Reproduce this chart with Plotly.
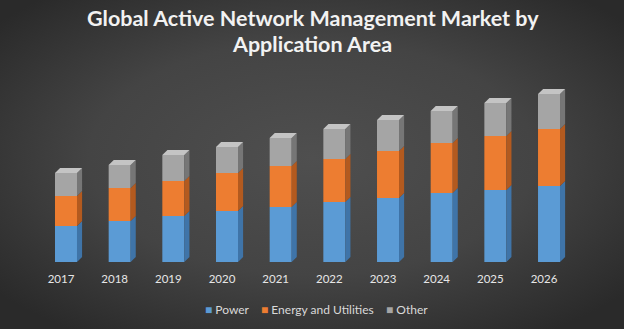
import base64
import plotly.graph_objects as go

# ---- data (arbitrary units) ----
years = ["2017", "2018", "2019", "2020", "2021", "2022", "2023", "2024", "2025", "2026"]
power = [36, 41, 46, 51, 55, 60, 64, 69, 72, 76]
energy = [30, 33, 35, 38, 41, 43, 47, 50, 54, 57]
other = [23, 23, 26, 26, 28, 30, 31, 32, 33, 35]

title_lines = ["Global Active Network Management Market by", "Application Area"]

series = [
    ("Power", power, "#5b9bd5", "#3f74a8", None),
    ("Energy and Utilities", energy, "#ed7d31", "#b35a1f", None),
    ("Other", other, "#a5a5a5", "#767676", "#c4c4c4"),
]

W, H = 624, 329
xpos = list(range(len(years)))
BAR_OFFSET = -0.112
BAR_WIDTH = 0.41
DX = 0.095   # depth in category units
DY = 5.0     # depth in value units

fig = go.Figure()

svg = f"""<svg xmlns='http://www.w3.org/2000/svg' width='{W}' height='{H}'>
<defs><radialGradient id='g' cx='50%' cy='48%' r='65%'>
<stop offset='0%' stop-color='#4f4f4f'/><stop offset='55%' stop-color='#444444'/>
<stop offset='100%' stop-color='#2a2a2a'/></radialGradient></defs>
<rect width='{W}' height='{H}' fill='url(#g)'/></svg>"""
src = "data:image/svg+xml;base64," + base64.b64encode(svg.encode()).decode()

bottoms = [0.0] * len(years)
side_polys = []
for name, vals, front, side, top in series:
    fig.add_trace(go.Bar(
        x=xpos, y=vals, base=bottoms[:], name=name,
        offset=BAR_OFFSET, width=BAR_WIDTH,
        marker=dict(color=front, line=dict(width=0)),
        hoverinfo="y+name", showlegend=False,
    ))
    xs, ys = [], []
    for i, v in enumerate(vals):
        y0 = bottoms[i]
        y1 = y0 + v
        xr = xpos[i] + BAR_OFFSET + BAR_WIDTH
        xs += [xr, xr + DX, xr + DX, xr, xr, None]
        ys += [y0, y0 + DY, y1 + DY, y1, y0, None]
    side_polys.append((xs, ys, side))
    if top is not None:
        txs, tys = [], []
        for i, v in enumerate(vals):
            y1 = bottoms[i] + v
            xl = xpos[i] + BAR_OFFSET
            xr = xl + BAR_WIDTH
            txs += [xl, xr, xr + DX, xl + DX, xl, None]
            tys += [y1, y1, y1 + DY, y1 + DY, y1, None]
        side_polys.append((txs, tys, top))
    bottoms = [b + v for b, v in zip(bottoms, vals)]

for xs, ys, col in side_polys:
    fig.add_trace(go.Scatter(
        x=xs, y=ys, mode="lines", fill="toself", fillcolor=col,
        line=dict(width=0, color=col), showlegend=False, hoverinfo="skip",
    ))

x0_px, step_px, base_px = 61.0, 53.67, 262.0
xr0 = (0 - x0_px) / step_px
xr1 = (W - x0_px) / step_px

legend_parts = []
for name, vals, front, side, top in series:
    legend_parts.append(f"<span style='color:{front}'>■</span> {name}")
legend_text = "    ".join(legend_parts)

title_font = dict(family="Lato", size=21.5, color="#f2f2f2", weight="bold")

fig.update_layout(
    width=W, height=H,
    margin=dict(l=0, r=0, t=0, b=0),
    paper_bgcolor="#3a3a3a",
    plot_bgcolor="rgba(0,0,0,0)",
    barmode="overlay",
    showlegend=False,
    images=[dict(source=src, xref="paper", yref="paper", x=0, y=1,
                 sizex=1, sizey=1, xanchor="left", yanchor="top",
                 sizing="stretch", layer="below")],
    font=dict(family="Lato", color="#d9d9d9", size=12),
    xaxis=dict(
        range=[xr0, xr1], tickvals=xpos, ticktext=years,
        showgrid=False, zeroline=False, showline=False, ticks="",
        anchor="free", position=(H - base_px) / H, ticklabelstandoff=8,
        tickfont=dict(size=11.5, color="#e6e6e6"), fixedrange=True,
    ),
    yaxis=dict(
        range=[-(H - base_px), base_px], visible=False,
        showgrid=False, zeroline=False, fixedrange=True,
    ),
    annotations=[
        dict(text=title_lines[0], xref="paper", yref="paper", x=313 / W, y=1 - 18.5 / H,
             xanchor="center", yanchor="middle", showarrow=False, font=title_font),
        dict(text=title_lines[1], xref="paper", yref="paper", x=312 / W, y=1 - 44 / H,
             xanchor="center", yanchor="middle", showarrow=False, font=title_font),
        dict(text=legend_text, xref="paper", yref="paper",
             x=316 / W, y=(H - 309) / H, xanchor="center", yanchor="middle",
             showarrow=False, font=dict(family="Lato", size=12, color="#d9d9d9")),
    ],
)

fig.write_html("out.html")
